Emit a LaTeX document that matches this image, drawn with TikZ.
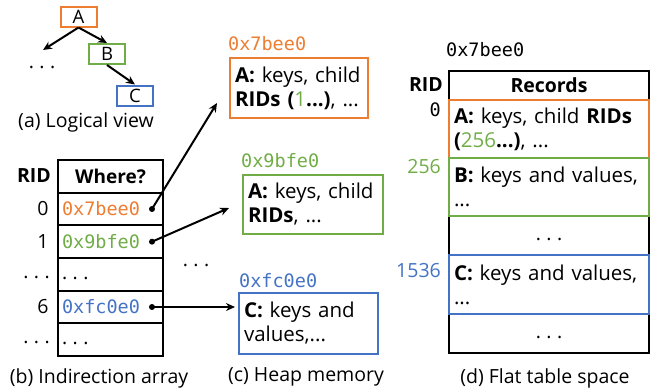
\documentclass[tikz,border=0pt]{standalone}
\usepackage{fontspec}
\setmainfont{Open Sans}
\setmonofont{DejaVu Sans Mono}
\usetikzlibrary{arrows.meta,calc}
\definecolor{cor}{HTML}{ED7D31}
\definecolor{cgr}{HTML}{70AD47}
\definecolor{cbl}{HTML}{4472C4}
\newcommand\sdots{.\hspace{0.28em}.\hspace{0.28em}.}
\tikzset{
  lw/.style={line width=2pt},
  treebox/.style={draw,lw,minimum width=36pt,minimum height=20pt,inner sep=0pt,font=\fontsize{18.5}{20}\selectfont},
  cell/.style={draw,lw,minimum width=105pt,minimum height=32.67pt,inner xsep=4pt,inner ysep=0pt,text width=97pt,align=left},
  bodytext/.style={font=\fontsize{20.5}{24}\selectfont},
  hbox/.style={draw,lw,bodytext,inner xsep=5pt,inner ysep=0pt,align=left,anchor=north west},
  frow/.style={draw,lw,minimum width=200pt,inner xsep=5pt,inner ysep=0pt,text width=190pt,align=left,anchor=north west},
  mono/.style={font=\fontsize{18.5}{22}\ttfamily},
  arr/.style={lw,-{Stealth[length=9pt,width=8pt]}},
  captext/.style={font=\fontsize{19.5}{22}\selectfont},
}
\begin{document}
\begin{tikzpicture}[x=1pt,y=-1pt,font=\fontsize{19.5}{24}\selectfont]
\useasboundingbox (0,0) rectangle (651,389);

% (a) logical view
\node[treebox,draw=cor] (A) at (78.5,16.5) {A};
\node[treebox,draw=cgr] (B) at (107,54) {B};
\node[treebox,draw=cbl] (C) at (135,95.5) {C};
\node[inner sep=0pt] (tdots) at (42,67) {\sdots};
\coordinate (tleft) at (43,50);
\draw[arr] (A.south) -- (tleft);
\draw[arr] (A.south) -- (B.north);
\draw[arr] (B.south) -- (C.north);
\node[captext] (capa) at (86,122) {(a) Logical view};

% (b) indirection array
\node[cell,align=center,font=\fontsize{19}{24}\selectfont] (wh) at (110.5,176.3) {\textbf{Where?}};
\node[cell,mono,text=cor] (r0) at (110.5,209) {0x7bee0};
\node[cell,mono,text=cgr] (r1) at (110.5,241.7) {0x9bfe0};
\node[cell] (r2) at (110.5,274.3) {\strut\sdots};
\node[cell,mono,text=cbl] (r3) at (110.5,307) {0xfc0e0};
\node[cell] (r4) at (110.5,339.7) {\strut\sdots};
\node (ridb) at (34,176) {\textbf{RID}};
\node[anchor=east] (i0) at (52,209) {0};
\node[anchor=east] (i1) at (52,241.7) {1};
\node[anchor=east,inner sep=0pt] (i2) at (50,277) {\sdots};
\node[anchor=east] (i3) at (52,307) {6};
\node[anchor=east,inner sep=0pt] (i4) at (50,342) {\sdots};
\coordinate (d0) at (152,209);
\coordinate (d1) at (152,241.7);
\coordinate (d3) at (152,307);
\fill (d0) circle (3);
\fill (d1) circle (3);
\fill (d3) circle (3);
\node[captext] (capb) at (99,378) {(b) Indirection array};

% (c) heap memory
\node[hbox,draw=cor,minimum width=138pt,minimum height=60pt,text width=128pt] (ob) at (229,57)
  {\textbf{A:} keys, child\\\textbf{RIDs (}\textcolor{cgr}{1}\textbf{...)}, ...};
\node[hbox,draw=cgr,minimum width=140pt,minimum height=59pt,text width=130pt] (gb) at (242,174)
  {\textbf{A:} keys, child\\\textbf{RIDs}, ...};
\node[hbox,draw=cbl,minimum width=139pt,minimum height=61pt,text width=129pt] (bb) at (238,292)
  {\textbf{C:} keys and\\values,...};
\node[mono,text=cor,anchor=west,inner xsep=0pt] (lo) at (228,44) {0x7bee0};
\node[mono,text=cgr,anchor=west,inner xsep=0pt] (lg) at (241,161) {0x9bfe0};
\node[mono,text=cbl,anchor=west,inner xsep=0pt] (lb) at (239,281) {0xfc0e0};
\node[inner sep=0pt] (hdots) at (196,265) {\sdots};
\coordinate (t0) at (217,103);
\coordinate (t1) at (229,208);
\coordinate (t3) at (235,307);
\draw[arr] (d0) -- (t0);
\draw[arr] (d1) -- (t1);
\draw[arr] (d3) -- (t3);
\node[captext] (capc) at (306,377) {(c) Heap memory};

% (d) flat table space
\node[mono,anchor=west,inner xsep=0pt] (lf) at (446,50) {0x7bee0};
\node[frow,minimum height=29pt,align=center] (fh) at (448,70) {\textbf{Records}};
\node[frow,minimum height=39pt,align=center] (fd1) at (448,215) {\strut\sdots};
\node[frow,minimum height=39pt,align=center] (fd2) at (448,313) {\strut\sdots};
\node[frow,bodytext,draw=cor,minimum height=58pt] (fa) at (448,99)
  {\textbf{A:} keys, child \textbf{RIDs}\\\textbf{(}\textcolor{cgr}{256}\textbf{...)}, ...};
\node[frow,bodytext,draw=cgr,minimum height=58pt] (fb) at (448,157)
  {\textbf{B:} keys and values,\\...};
\node[frow,bodytext,draw=cbl,minimum height=59pt] (fc) at (448,254)
  {\textbf{C:} keys and values,\\...};
\node (ridd) at (426,85) {\textbf{RID}};
\node[mono,anchor=east,inner xsep=0pt] (f0) at (441,110) {0};
\node[anchor=east,inner xsep=0pt,text=cgr] (f1) at (441,167) {256};
\node[anchor=east,inner xsep=0pt,text=cbl] (f2) at (441,271) {1536};
\node[captext] (capd) at (545,378) {(d) Flat table space};
\end{tikzpicture}
\end{document}
